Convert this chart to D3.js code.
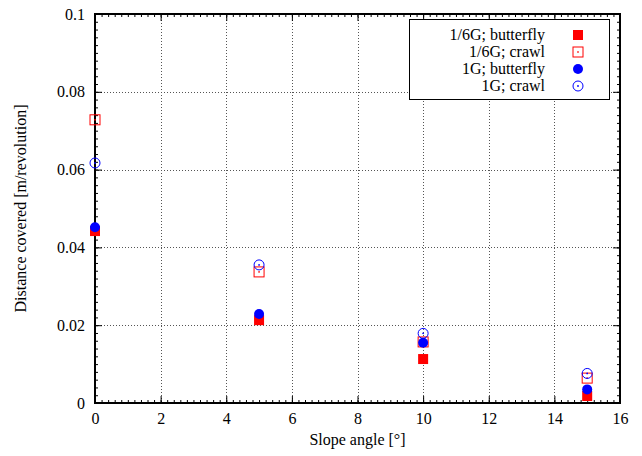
<!DOCTYPE html>
<html>
<head>
<meta charset="utf-8">
<script src="https://cdn.jsdelivr.net/npm/d3@7"></script>
<style>
  body { margin: 0; background: #fff; }
  text { font-family: "Liberation Serif", "DejaVu Serif", serif; }
</style>
</head>
<body>
<main></main>
<script>
const angles = [0, 5, 10, 15];
const seriesNames = ["1/6G; butterfly", "1/6G; crawl", "1G; butterfly", "1G; crawl"];
const moonButterfly = [0.0442, 0.0213, 0.0113, 0.0018];
const moonCrawl = [0.0728, 0.0337, 0.0157, 0.0064];
const earthButterfly = [0.0452, 0.0229, 0.0155, 0.0035];
const earthCrawl = [0.0617, 0.0355, 0.0179, 0.0076];
const xTicks = [0, 2, 4, 6, 8, 10, 12, 14, 16];
const yTicks = [0, 0.02, 0.04, 0.06, 0.08, 0.1];

const svgWidth = 642,
  svgHeight = 456,
  plotLeft = 95, plotRight = 620, plotTop = 14, plotBottom = 403;

const xScale = d3.scaleLinear().domain([0, 16]).range([plotLeft, plotRight]),
  yScale = d3.scaleLinear().domain([0, 0.1]).range([plotBottom, plotTop]);

const svg = d3.select("main").append("svg")
  .attr("width", svgWidth)
  .attr("height", svgHeight);

// grid
const grid = svg.append("g").attr("stroke", "#555").attr("stroke-width", 1).attr("stroke-dasharray", "1,2");
grid.selectAll("line.gx").data(xTicks.slice(1, -1)).join("line")
  .attr("x1", d => Math.round(xScale(d)) + 0.5).attr("x2", d => Math.round(xScale(d)) + 0.5)
  .attr("y1", plotTop).attr("y2", plotBottom);
grid.selectAll("line.gy").data(yTicks.slice(1, -1)).join("line")
  .attr("y1", d => Math.round(yScale(d)) + 0.5).attr("y2", d => Math.round(yScale(d)) + 0.5)
  .attr("x1", plotLeft).attr("x2", plotRight);

// axes with inward ticks (major + minor, mirrored)
const xMinor = d3.range(0, 16.001, 0.2);
const yMinor = d3.range(0, 0.1001, 0.002);
function addAxis(axisFn, scale, ticks, minor, transform, fmt) {
  svg.append("g").attr("transform", transform)
    .call(axisFn(scale).tickValues(minor).tickSize(-3).tickFormat(""))
    .call(g => g.select(".domain").remove());
  const g = svg.append("g").attr("transform", transform)
    .call(axisFn(scale).tickValues(ticks).tickSize(-7).tickPadding(10).tickFormat(fmt));
  g.select(".domain").remove();
  g.selectAll("text").attr("font-size", 16).attr("fill", "#000")
    .attr("font-family", "Liberation Serif");
  return g;
}
addAxis(d3.axisBottom, xScale, xTicks, xMinor, `translate(0,${plotBottom})`, d3.format("d"));
addAxis(d3.axisTop, xScale, xTicks, xMinor, `translate(0,${plotTop})`, "");
addAxis(d3.axisLeft, yScale, yTicks, yMinor, `translate(${plotLeft},0)`, d => d === 0 ? "0" : d3.format("")(+d.toFixed(2)));
addAxis(d3.axisRight, yScale, yTicks, yMinor, `translate(${plotRight},0)`, "");

svg.append("rect").attr("x", plotLeft).attr("y", plotTop)
  .attr("width", plotRight - plotLeft).attr("height", plotBottom - plotTop)
  .attr("fill", "none").attr("stroke", "#000").attr("stroke-width", 2);

// labels
svg.append("text").attr("x", (plotLeft + plotRight) / 2).attr("y", 445)
  .attr("text-anchor", "middle").attr("font-size", 16).text("Slope angle [°]");
svg.append("text").attr("transform", `translate(26,${(plotTop + plotBottom) / 2}) rotate(-90)`)
  .attr("text-anchor", "middle").attr("font-size", 16).text("Distance covered [m/revolution]");

// markers
function drawSquare(g, x, y, filled) {
  g.append("rect").attr("x", x - 5).attr("y", y - 5).attr("width", 10).attr("height", 10)
    .attr("fill", filled ? "#f00" : "none").attr("stroke", filled ? "none" : "#f00").attr("stroke-width", 1);
  if (!filled) g.append("rect").attr("x", x - 0.75).attr("y", y - 0.75).attr("width", 1.5).attr("height", 1.5).attr("fill", "#f00");
}
function drawCircle(g, x, y, filled) {
  g.append("circle").attr("cx", x).attr("cy", y).attr("r", 5)
    .attr("fill", filled ? "#00f" : "none").attr("stroke", filled ? "none" : "#00f").attr("stroke-width", 1);
  if (!filled) g.append("circle").attr("cx", x).attr("cy", y).attr("r", 0.9).attr("fill", "#00f");
}
const series = [
  { values: moonButterfly, draw: (g, x, y) => drawSquare(g, x, y, true) },
  { values: moonCrawl, draw: (g, x, y) => drawSquare(g, x, y, false) },
  { values: earthButterfly, draw: (g, x, y) => drawCircle(g, x, y, true) },
  { values: earthCrawl, draw: (g, x, y) => drawCircle(g, x, y, false) }
];
const marks = svg.append("g");
series.forEach(s => {
  s.values.forEach((v, i) => s.draw(marks, xScale(angles[i]), yScale(v)));
});

// legend
const legend = svg.append("g");
legend.append("rect").attr("x", 409.5).attr("y", 19.5).attr("width", 200).attr("height", 80)
  .attr("fill", "#fff").attr("stroke", "#000").attr("stroke-width", 1);
seriesNames.forEach((name, i) => {
  const yy = 35 + i * 17;
  legend.append("text").attr("x", 545).attr("y", yy + 5).attr("text-anchor", "end")
    .attr("font-size", 16).text(name);
  series[i].draw(legend, 578, yy);
});
</script>
</body>
</html>
